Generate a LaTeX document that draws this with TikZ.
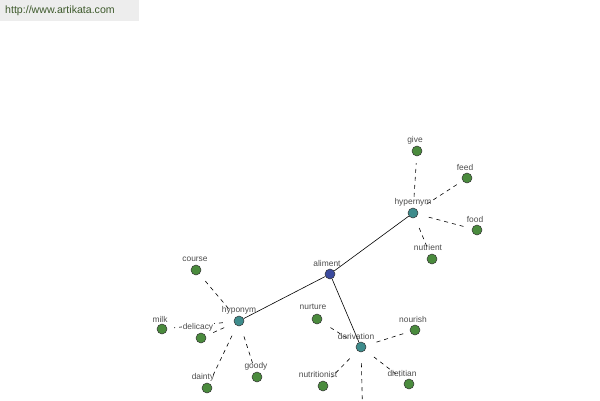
\documentclass[tikz,border=0pt]{standalone}
\usepackage{fontspec}
\setmainfont{Liberation Sans}
\begin{document}
\begin{tikzpicture}[x=1pt,y=-1pt,
  leaf/.style={circle,draw=black!80,line width=0.5pt,fill=leafgreen,minimum size=10pt,inner sep=0pt},
  hub/.style={circle,draw=black!80,line width=0.5pt,fill=hubteal,minimum size=10pt,inner sep=0pt},
  root/.style={circle,draw=black!80,line width=0.5pt,fill=rootblue,minimum size=10pt,inner sep=0pt},
  lbl/.style={font=\fontsize{8.4}{9}\selectfont,text=black!70,inner sep=0.6pt},
  rel/.style={draw=black,line width=0.6pt,dash pattern=on 4pt off 4pt,shorten <=11pt,shorten >=7pt},
  link/.style={draw=black,line width=0.6pt}]
\definecolor{leafgreen}{HTML}{4A8B3D}
\definecolor{hubteal}{HTML}{3E8C8C}
\definecolor{rootblue}{HTML}{3B4A9E}
\definecolor{urlgreen}{HTML}{3E5A2C}
\useasboundingbox (0,0) rectangle (600,400);
\clip (0,0) rectangle (600,400);
% banner
\fill[black!7] (0,0) rectangle (139,21);
\node[font=\fontsize{10.6}{11}\selectfont,text=urlgreen,anchor=west,inner sep=0pt] (url) at (5,11) {http://www.artikata.com};
% nodes
\node[root] (aliment) at (330,274) {};
\node[hub] (hypernym) at (413,213) {};
\node[hub] (hyponym) at (239,321) {};
\node[hub] (derivation) at (361,347) {};
\node[leaf] (give) at (417,151) {};
\node[leaf] (feed) at (467,178) {};
\node[leaf] (food) at (477,230) {};
\node[leaf] (nutrient) at (432,259) {};
\node[leaf] (course) at (196,270) {};
\node[leaf] (milk) at (162,329) {};
\node[leaf] (delicacy) at (201,338) {};
\node[leaf] (dainty) at (207,388) {};
\node[leaf] (goody) at (257,377) {};
\node[leaf] (nurture) at (317,319) {};
\node[leaf] (nourish) at (415,330) {};
\node[leaf] (nutritionist) at (323,386) {};
\node[leaf] (dietitian) at (409,384) {};
\coordinate (below) at (363,430);
% connectors
\draw[link] (aliment) -- (hypernym);
\draw[link] (aliment) -- (hyponym);
\draw[link] (aliment) -- (derivation);
\foreach \l in {give,feed,food,nutrient}
  \draw[rel] (hypernym) -- (\l);
\foreach \l in {course,milk,delicacy,dainty,goody}
  \draw[rel] (hyponym) -- (\l);
\foreach \l in {nurture,nourish,nutritionist,dietitian}
  \draw[rel] (derivation) -- (\l);
\draw[rel,shorten >=0pt] (derivation) -- (below);
% labels
\node[lbl] (lgive) at (415,140) {give};
\node[lbl] (lfeed) at (465,167) {feed};
\node[lbl] (lhypernym) at (413,202) {hypernym};
\node[lbl] (lfood) at (475,219) {food};
\node[lbl] (lnutrient) at (428,247) {nutrient};
\node[lbl] (laliment) at (327,263) {aliment};
\node[lbl] (lcourse) at (195,259) {course};
\node[lbl] (lhyponym) at (239,310) {hyponym};
\node[lbl] (lmilk) at (160,319) {milk};
\node[lbl,fill=white] (ldelicacy) at (198,327) {delicacy};
\node[lbl] (ldainty) at (203,377) {dainty};
\node[lbl] (lgoody) at (256,366) {goody};
\node[lbl] (lnurture) at (313,307) {nurture};
\node[lbl] (lnourish) at (413,319) {nourish};
\node[lbl] (lderivation) at (356,336) {derivation};
\node[lbl] (lnutritionist) at (318,374) {nutritionist};
\node[lbl] (ldietitian) at (402,373) {dietitian};
\end{tikzpicture}
\end{document}
